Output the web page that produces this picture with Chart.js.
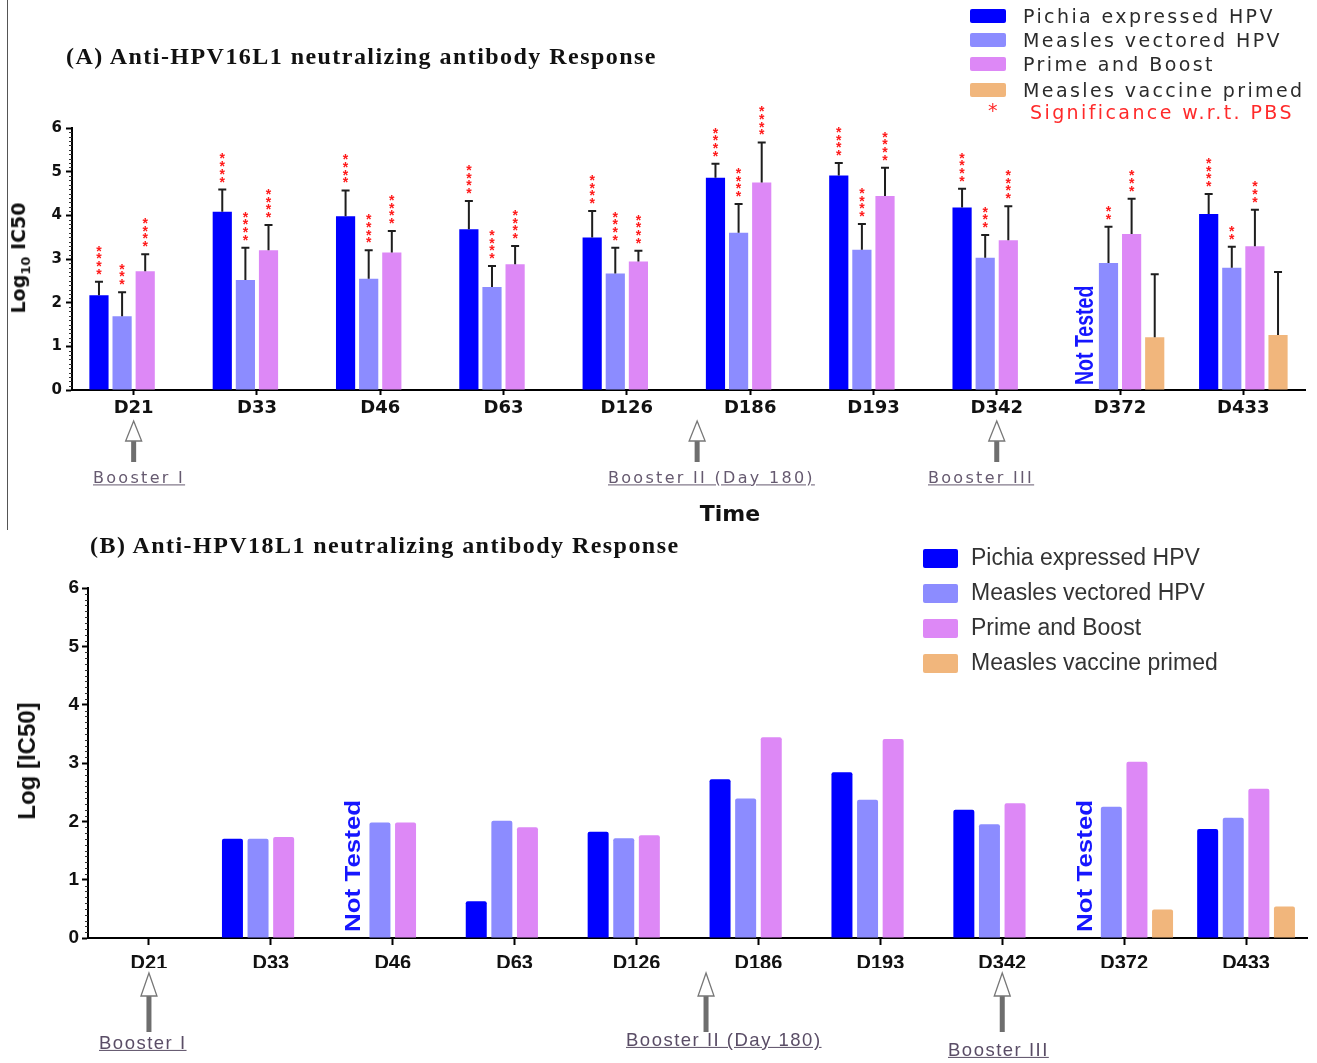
<!DOCTYPE html>
<html>
<head>
<meta charset="utf-8">
<title>Anti-HPV L1 neutralizing antibody response</title>
<script src="https://cdn.jsdelivr.net/npm/chart.js@4.4.1/dist/chart.umd.min.js"></script>
<style>
  html, body { margin: 0; padding: 0; background: #fff; }
  body { position: relative; width: 1317px; height: 1063px; overflow: hidden; }
  .box { position: absolute; left: 0; width: 1317px; }
  #boxA { top: 0; height: 530px; }
  #boxB { top: 530px; height: 533px; }
  .txt { position: absolute; white-space: nowrap; transform: translateY(-50%); line-height: 1.2; }
  .mid { transform: translate(-50%, -50%); }
  .title { font-family: 'Liberation Serif', 'Times New Roman', serif; font-weight: bold; font-size: 24px; letter-spacing: 1.45px; color: #111; }
  .legA { font-family: 'DejaVu Sans', Verdana, sans-serif; font-size: 19px; letter-spacing: 2.4px; color: #2b2b2b; }
  .sig { color: #ff2a2a; }
  .legB { font-family: 'Liberation Sans', Arial, sans-serif; font-size: 23px; color: #333; }
  .sw { position: absolute; border-radius: 2px; }
  .boostA { font-family: 'DejaVu Sans', sans-serif; font-size: 16px; letter-spacing: 2.3px; color: #665a70; text-decoration: underline; }
  .boostB { font-family: 'Liberation Sans', Arial, sans-serif; font-size: 18.5px; letter-spacing: 1.5px; color: #5a4d66; text-decoration: underline; }
  .ytitle { position: absolute; white-space: nowrap; transform: translate(-50%, -50%) rotate(-90deg); font-weight: bold; color: #111; }
  .time { font-family: 'DejaVu Sans', sans-serif; font-weight: bold; font-size: 22px; color: #111; }
  #edge { position: absolute; left: 7px; top: 0; width: 1px; height: 530px; background: #555; }
</style>
</head>
<body>
<div id="edge"></div>
<div class="box" id="boxA"><canvas id="chartA"></canvas></div>
<div class="box" id="boxB"><canvas id="chartB"></canvas></div>
<script>
// sampling days and groups
const categories = ['D21', 'D33', 'D46', 'D63', 'D126', 'D186', 'D193', 'D342', 'D372', 'D433']
const seriesNames = ['Pichia expressed HPV', 'Measles vectored HPV', 'Prime and Boost', 'Measles vaccine primed']
const yTicks = [0, 1, 2, 3, 4, 5, 6]

// (A) HPV16 L1, log10 IC50 with upper error
const pichiaA = [2.17, 4.08, 3.98, 3.68, 3.49, 4.86, 4.91, 4.18, null, 4.03]
const measlesVecA = [1.69, 2.52, 2.55, 2.36, 2.67, 3.60, 3.21, 3.03, 2.91, 2.80]
const primeBoostA = [2.72, 3.20, 3.15, 2.88, 2.94, 4.75, 4.44, 3.43, 3.57, 3.29]
const measlesVacA = [null, null, null, null, null, null, null, null, 1.21, 1.26]

const pichiaErrA = [0.31, 0.51, 0.59, 0.65, 0.61, 0.32, 0.29, 0.43, null, 0.46]
const measlesVecErrA = [0.55, 0.74, 0.65, 0.48, 0.59, 0.66, 0.59, 0.52, 0.83, 0.48]
const primeBoostErrA = [0.39, 0.58, 0.49, 0.42, 0.25, 0.92, 0.65, 0.78, 0.81, 0.84]
const measlesVacErrA = [null, null, null, null, null, null, null, null, 1.44, 1.44]

// number of significance stars over each bar
const pichiaStarsA = [4, 4, 4, 4, 4, 4, 4, 4, 0, 4]
const measlesVecStarsA = [3, 4, 4, 4, 4, 4, 4, 3, 2, 2]
const primeBoostStarsA = [4, 4, 4, 4, 4, 4, 4, 4, 3, 3]
const measlesVacStarsA = [0, 0, 0, 0, 0, 0, 0, 0, 0, 0]

// (B) HPV18 L1, log IC50
const pichiaB = [null, 1.70, null, 0.63, 1.82, 2.72, 2.84, 2.20, null, 1.87]
const measlesVecB = [null, 1.70, 1.98, 2.01, 1.71, 2.39, 2.37, 1.95, 2.25, 2.06]
const primeBoostB = [null, 1.73, 1.98, 1.90, 1.76, 3.44, 3.41, 2.31, 3.02, 2.56]
const measlesVacB = [null, null, null, null, null, null, null, null, 0.49, 0.54]

const notTestedA = ['D372']
const notTestedB = ['D46', 'D372']

// boosters, as position on the category axis
const boosterLabels = ['Booster I', 'Booster II (Day 180)', 'Booster III']
const boosterAt = [0, 4.57, 7]

const seriesColors = ['#0000ff', '#8c8cff', '#dd88f6', '#f1b67c']

function extras (cfg) {
  return {
    id: 'extras',
    afterDatasetsDraw (chart) {
      const ctx = chart.ctx
      const ys = chart.scales.y
      if (!cfg.errors) return
      ctx.save()
      cfg.errors.forEach((errs, di) => {
        const meta = chart.getDatasetMeta(di)
        errs.forEach((err, i) => {
          const v = cfg.values[di][i]
          if (v == null || err == null) return
          const bar = meta.data[i]
          const top = ys.getPixelForValue(v + err)
          ctx.strokeStyle = '#1e1e1e'
          ctx.lineWidth = 2
          ctx.beginPath()
          ctx.moveTo(bar.x, bar.y)
          ctx.lineTo(bar.x, top)
          ctx.moveTo(bar.x - 4, top)
          ctx.lineTo(bar.x + 4, top)
          ctx.stroke()
          const n = cfg.stars[di][i]
          ctx.fillStyle = '#ff1a1a'
          ctx.font = 'bold 14px "Liberation Sans"'
          ctx.textAlign = 'center'
          ctx.textBaseline = 'alphabetic'
          for (let k = 0; k < n; k++) {
            ctx.fillText('*', bar.x, top - 10 - k * 7.7 + 7)
          }
        })
      })
      ctx.restore()
    },
    afterDraw (chart) {
      const ctx = chart.ctx
      const xs = chart.scales.x
      const ys = chart.scales.y
      const area = chart.chartArea
      ctx.save()
      // minor ticks on y
      ctx.strokeStyle = '#333'
      ctx.lineWidth = 1
      for (let k = 0; k <= 60; k++) {
        if (k % 10 === 0) continue
        const py = Math.round(ys.getPixelForValue(k / 10)) + 0.5
        ctx.beginPath()
        ctx.moveTo(area.left - 3, py)
        ctx.lineTo(area.left, py)
        ctx.stroke()
      }
      // not tested
      cfg.notTested.forEach(lab => {
        const i = categories.indexOf(lab)
        const bar = chart.getDatasetMeta(0).data[i]
        ctx.save()
        ctx.translate(bar.x, ys.getPixelForValue(0) - cfg.nt.gap)
        ctx.rotate(-Math.PI / 2)
        ctx.scale(cfg.nt.stretch, 1)
        ctx.fillStyle = '#1616ff'
        ctx.font = cfg.nt.font
        ctx.textAlign = 'left'
        ctx.textBaseline = 'middle'
        ctx.fillText('Not Tested', 0, 0)
        ctx.restore()
      })
      // booster arrows
      boosterAt.forEach(pos => {
        const i0 = Math.floor(pos)
        const f = pos - i0
        const x0 = xs.getPixelForValue(i0)
        const x = x0 + f * (xs.getPixelForValue(i0 + 1) - x0)
        const tip = area.bottom + cfg.arrow.tip
        const neck = area.bottom + cfg.arrow.neck
        const tail = area.bottom + cfg.arrow.tail
        ctx.fillStyle = '#6e6e6e'
        ctx.fillRect(x - 2.5, neck, 5, tail - neck)
        ctx.beginPath()
        ctx.moveTo(x, tip)
        ctx.lineTo(x + 8, neck)
        ctx.lineTo(x - 8, neck)
        ctx.closePath()
        ctx.fillStyle = '#fff'
        ctx.fill()
        ctx.strokeStyle = '#777'
        ctx.lineWidth = 1.3
        ctx.stroke()
      })
      ctx.restore()
    }
  }
}

function makeChart (id, cfg) {
  const datasets = seriesNames.map((name, i) => ({
    label: name,
    data: cfg.values[i],
    backgroundColor: seriesColors[i],
    borderWidth: 0,
    borderRadius: cfg.radius,
    borderSkipped: 'bottom',
    categoryPercentage: cfg.catPct,
    barPercentage: cfg.barPct
  }))
  return new Chart(document.getElementById(id), {
    type: 'bar',
    data: { labels: categories, datasets: datasets },
    options: {
      responsive: true,
      maintainAspectRatio: false,
      animation: false,
      layout: { padding: cfg.padding },
      plugins: { legend: { display: false }, tooltip: { enabled: false } },
      scales: {
        x: {
          grid: { display: true, drawOnChartArea: false, offset: false, tickLength: cfg.xTick, tickColor: '#000', tickWidth: 2 },
          border: { color: '#000', width: 2 },
          ticks: { color: '#111', font: cfg.xFont, padding: cfg.xPad, maxRotation: 0, autoSkip: false },
          afterFit: s => { s.height = 30 }
        },
        y: {
          min: 0,
          max: 6,
          afterBuildTicks: s => { s.ticks = yTicks.map(v => ({ value: v })) },
          grid: { drawOnChartArea: false, tickLength: 6, tickColor: '#000', tickWidth: 2 },
          border: { color: '#000', width: 2 },
          ticks: { color: '#111', font: cfg.yFont, padding: cfg.yPad },
          afterFit: s => { s.width = cfg.yWidth }
        }
      }
    },
    plugins: [extras(cfg)]
  })
}

makeChart('chartA', {
  values: [pichiaA, measlesVecA, primeBoostA, measlesVacA],
  errors: [pichiaErrA, measlesVecErrA, primeBoostErrA, measlesVacErrA],
  stars: [pichiaStarsA, measlesVecStarsA, primeBoostStarsA, measlesVacStarsA],
  notTested: notTestedA,
  nt: { font: 'bold 26px "Liberation Sans"', stretch: 0.75, gap: 5 },
  arrow: { tip: 31, neck: 51, tail: 72 },
  radius: 0,
  catPct: 0.75,
  barPct: 0.83,
  padding: { left: 0, right: 12, top: 128, bottom: 110 },
  yWidth: 72,
  xTick: 5,
  xPad: 3,
  yPad: 4,
  xFont: { family: 'DejaVu Sans', weight: 'bold', size: 18 },
  yFont: { family: 'DejaVu Sans', weight: 'bold', size: 15 }
})

makeChart('chartB', {
  values: [pichiaB, measlesVecB, primeBoostB, measlesVacB],
  notTested: notTestedB,
  nt: { font: 'bold 22px "Liberation Sans"', stretch: 1.18, gap: 6 },
  arrow: { tip: 35, neck: 58, tail: 94 },
  radius: 2,
  catPct: 0.84,
  barPct: 0.82,
  padding: { left: 0, right: 10, top: 58, bottom: 95 },
  yWidth: 88,
  xTick: 7,
  xPad: 6,
  yPad: 3,
  xFont: { family: 'Liberation Sans', weight: 'bold', size: 20 },
  yFont: { family: 'Liberation Sans', weight: 'bold', size: 19 }
})

// page texts
function addText (html, x, y, cls) {
  const d = document.createElement('div')
  d.className = 'txt ' + cls
  d.style.left = x + 'px'
  d.style.top = y + 'px'
  d.innerHTML = html
  document.body.appendChild(d)
  return d
}
function addSwatch (x, y, w, h, color) {
  const d = document.createElement('div')
  d.className = 'sw'
  Object.assign(d.style, { left: x + 'px', top: y + 'px', width: w + 'px', height: h + 'px', background: color })
  document.body.appendChild(d)
}
function addYTitle (html, x, y, font) {
  const d = document.createElement('div')
  d.className = 'ytitle'
  d.style.left = x + 'px'
  d.style.top = y + 'px'
  d.style.font = font
  d.innerHTML = html
  document.body.appendChild(d)
}

addText('(A) Anti-HPV16L1 neutralizing antibody Response', 66, 56, 'title')
addText('(B) Anti-HPV18L1 neutralizing antibody Response', 90, 545, 'title')

const legATops = [9, 33, 57, 83]
seriesNames.forEach((name, i) => {
  addSwatch(970, legATops[i], 36, 14, seriesColors[i])
  addText(name, 1023, legATops[i] + 7, 'legA')
})
addText('*', 988, 110, 'legA sig')
addText('Significance w.r.t. PBS', 1030, 112, 'legA sig')

const legBTops = [549, 584, 619, 654]
seriesNames.forEach((name, i) => {
  addSwatch(923, legBTops[i], 35, 19, seriesColors[i])
  addText(name, 971, legBTops[i] + 9, 'legB')
})

addYTitle('Log<sub style="font-size:13px">10</sub> IC50', 20, 258, 'bold 19px "DejaVu Sans"')
addYTitle('Log [IC50]', 27, 761, 'bold 24px "Liberation Sans"')
addText('Time', 730, 514, 'time mid')

const boostAX = [93, 608, 928]
boosterLabels.forEach((lab, i) => addText(lab, boostAX[i], 478, 'boostA'))
const boostBX = [99, 626, 948]
const boostBY = [1043, 1040, 1050]
boosterLabels.forEach((lab, i) => addText(lab, boostBX[i], boostBY[i], 'boostB'))
</script>
</body>
</html>
